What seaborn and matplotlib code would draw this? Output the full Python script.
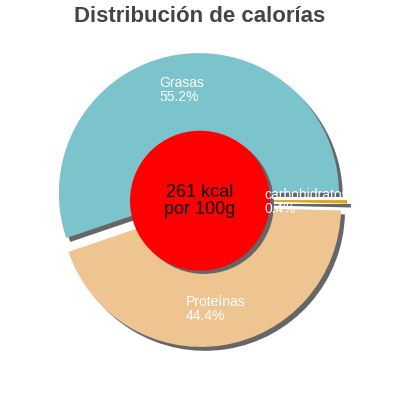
import matplotlib
matplotlib.use("Agg")
import matplotlib.pyplot as plt
import seaborn as sns
from matplotlib.patches import Circle, Rectangle

# data
labels = ["Grasas", "Proteínas", "carbohidratos"]
percent = [55.2, 44.4, 0.4]
colors = ["#7cc4cc", "#eec591", "#daa520"]
kcal = 261

sns.set_theme(style="white")
plt.rcParams['font.family'] = ['Liberation Sans', 'DejaVu Sans']

fig = plt.figure(figsize=(4, 4), dpi=100)
ax = fig.add_axes([0, 0, 1, 1])

explode = [0.05] * len(percent)
shadow_off = (0.028, -0.028)

# shadow pie first, then the real one on top
ax.pie(percent, explode=explode, colors=["#666666"] * len(percent), startangle=0,
       center=shadow_off, wedgeprops=dict(linewidth=0))
wedges, _ = ax.pie(percent, explode=explode, colors=colors, startangle=0,
                   wedgeprops=dict(linewidth=0))

# red center with its shadow
ax.add_patch(Circle(shadow_off, 0.5, color="#666666", lw=0, zorder=6))
ax.add_patch(Circle((0, -0.005), 0.5, color="#ff0000", lw=0, zorder=7))
ax.text(0, -0.005, f"{kcal} kcal\npor 100g", ha='center', va='center',
        fontsize=13, color='black', linespacing=1.0, zorder=8)

# slice labels
label_pos = [(-0.29, 0.885), (-0.1, -0.68), (0.46, 0.085)]
clip = Rectangle((-1.5, -1.5), 2.52, 3.0, transform=ax.transData)
for lab, pct, (x, y) in zip(labels, percent, label_pos):
    t = ax.text(x, y, f"{lab}\n{pct}%", ha='left', va='top', color='white',
                fontsize=10, linespacing=0.95, zorder=9)
    t.set_clip_path(clip)

lim = 200 / 140
ax.set_xlim(-lim, lim)
ax.set_ylim(-lim, lim)
ax.set_aspect('equal')
ax.axis('off')

fig.text(0.5, 0.985, "Distribución de calorías", ha='center', va='top',
         fontsize=16, fontweight='bold', color='#444444')

fig.savefig("out.png", dpi=100)
